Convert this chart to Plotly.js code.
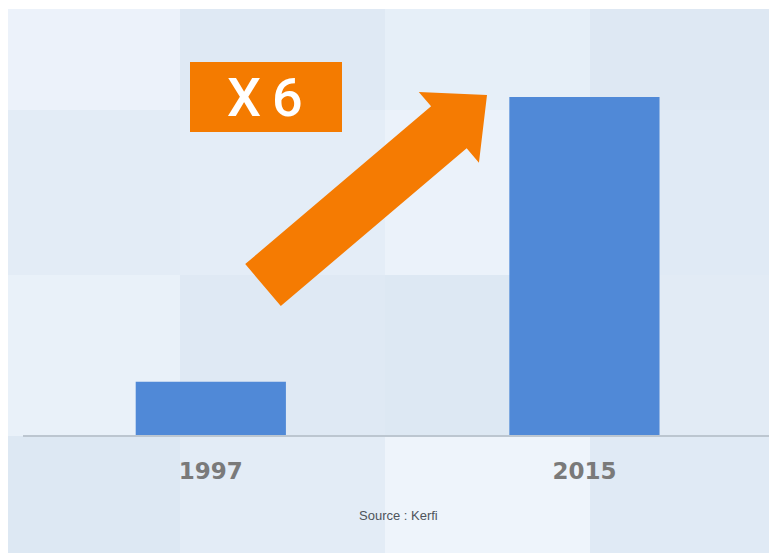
<!DOCTYPE html>
<html>
<head>
<meta charset="utf-8">
<script src="https://cdn.plot.ly/plotly-3.0.1.min.js"></script>
<style>
html,body{margin:0;padding:0;background:#ffffff;}
#chart{width:769px;height:553px;}
</style>
</head>
<body>
<div id="chart"></div>
<script>
// ---- data ----
var years = ['1997', '2015'];
var values = [1.6, 10.0];
var multiplierLabel = 'X\u20096';
var sourceText = 'Source : Kerfi';

// ---- layout geometry (pixels) ----
var W = 769, H = 553;
var M = {l: 24, r: 0, t: 13, b: 117};
var PW = W - M.l - M.r, PH = H - M.t - M.b;
function fx(px) { return (px - M.l) / PW; }
function fy(py) { return (H - M.b - py) / PH; }

var shapes = [];
// white border at top/left
shapes.push({type:'rect', xref:'paper', yref:'paper', x0:fx(0), x1:fx(W), y0:fy(0), y1:fy(H), fillcolor:'#ffffff', line:{width:0}, layer:'below'});
// background tiles
var colX = [8, 180, 385, 590, 769];
var rowY = [9, 110, 275, 436, 553];
var tileColors = [
  ['#ecf2fa', '#dfe9f4', '#e6eff8', '#dee8f3'],
  ['#e3ecf6', '#e4edf7', '#ebf2fa', '#e0eaf5'],
  ['#e9f1f9', '#dfe9f4', '#dde8f3', '#e2ebf5'],
  ['#dde8f3', '#e3ecf6', '#eef4fb', '#e0eaf5']
];
for (var r = 0; r < 4; r++) {
  for (var c = 0; c < 4; c++) {
    shapes.push({type:'rect', xref:'paper', yref:'paper',
      x0:fx(colX[c]), x1:fx(colX[c+1]), y0:fy(rowY[r+1]), y1:fy(rowY[r]),
      fillcolor:tileColors[r][c], line:{width:0}, layer:'below'});
  }
}

// orange arrow
(function(){
  var tip = [487, 95], tail = [263, 285];
  var dx = tip[0]-tail[0], dy = tip[1]-tail[1];
  var len = Math.sqrt(dx*dx+dy*dy);
  var u = [dx/len, dy/len], n = [-u[1], u[0]];
  var headLen = 50, headHalf = 46.5, shaftHalf = 27.5;
  var base = [tip[0]-headLen*u[0], tip[1]-headLen*u[1]];
  function p(pt, k){ return [pt[0]+k*n[0], pt[1]+k*n[1]]; }
  var pts = [p(tail, shaftHalf), p(base, shaftHalf), p(base, headHalf), tip,
             p(base, -headHalf), p(base, -shaftHalf), p(tail, -shaftHalf)];
  var d = pts.map(function(q, i){ return (i===0?'M':'L') + fx(q[0]).toFixed(5) + ',' + fy(q[1]).toFixed(5); }).join(' ') + ' Z';
  shapes.push({type:'path', xref:'paper', yref:'paper', path:d, fillcolor:'#f57b02', line:{width:0}, layer:'above'});
})();

// X 6 box
shapes.push({type:'rect', xref:'paper', yref:'paper', x0:fx(190), x1:fx(342), y0:fy(132), y1:fy(62),
  fillcolor:'#f47b00', line:{width:0}, layer:'above'});

var annotations = [
  {xref:'paper', yref:'paper', x:fx(265), y:fy(98), text:multiplierLabel, showarrow:false,
   xanchor:'center', yanchor:'middle',
   font:{family:'Roboto, Liberation Sans, sans-serif', size:54, color:'#ffffff', weight:500}},
  {xref:'paper', yref:'paper', x:fx(398), y:fy(515), text:sourceText, showarrow:false,
   xanchor:'center', yanchor:'middle',
   font:{family:'Liberation Sans, Arial, sans-serif', size:13, color:'#4f545b'}}
];

var trace = {
  type:'bar', x:years, y:values,
  marker:{color:'#5089d7', line:{width:0}},
  hoverinfo:'none'
};

var layout = {
  width:W, height:H,
  margin:M,
  paper_bgcolor:'rgba(0,0,0,0)',
  plot_bgcolor:'rgba(0,0,0,0)',
  showlegend:false,
  bargap:0.598,
  xaxis:{type:'category', range:[-0.5, 1.494], fixedrange:true,
    showgrid:false, zeroline:false, showline:false, ticks:'',
    tickfont:{family:'DejaVu Sans, sans-serif', size:23, color:'#7a7a7a', weight:'bold'},
    ticklabelstandoff:19},
  yaxis:{range:[0, 12.478], fixedrange:true, visible:false, showgrid:false, zeroline:false},
  shapes:shapes.concat([
    {type:'line', xref:'paper', yref:'paper', x0:fx(23), x1:fx(769), y0:fy(436), y1:fy(436),
     line:{color:'#bcc6d0', width:2}, layer:'above'}
  ]),
  annotations:annotations
};

Plotly.newPlot('chart', [trace], layout, {displayModeBar:false, staticPlot:true});
</script>
</body>
</html>
